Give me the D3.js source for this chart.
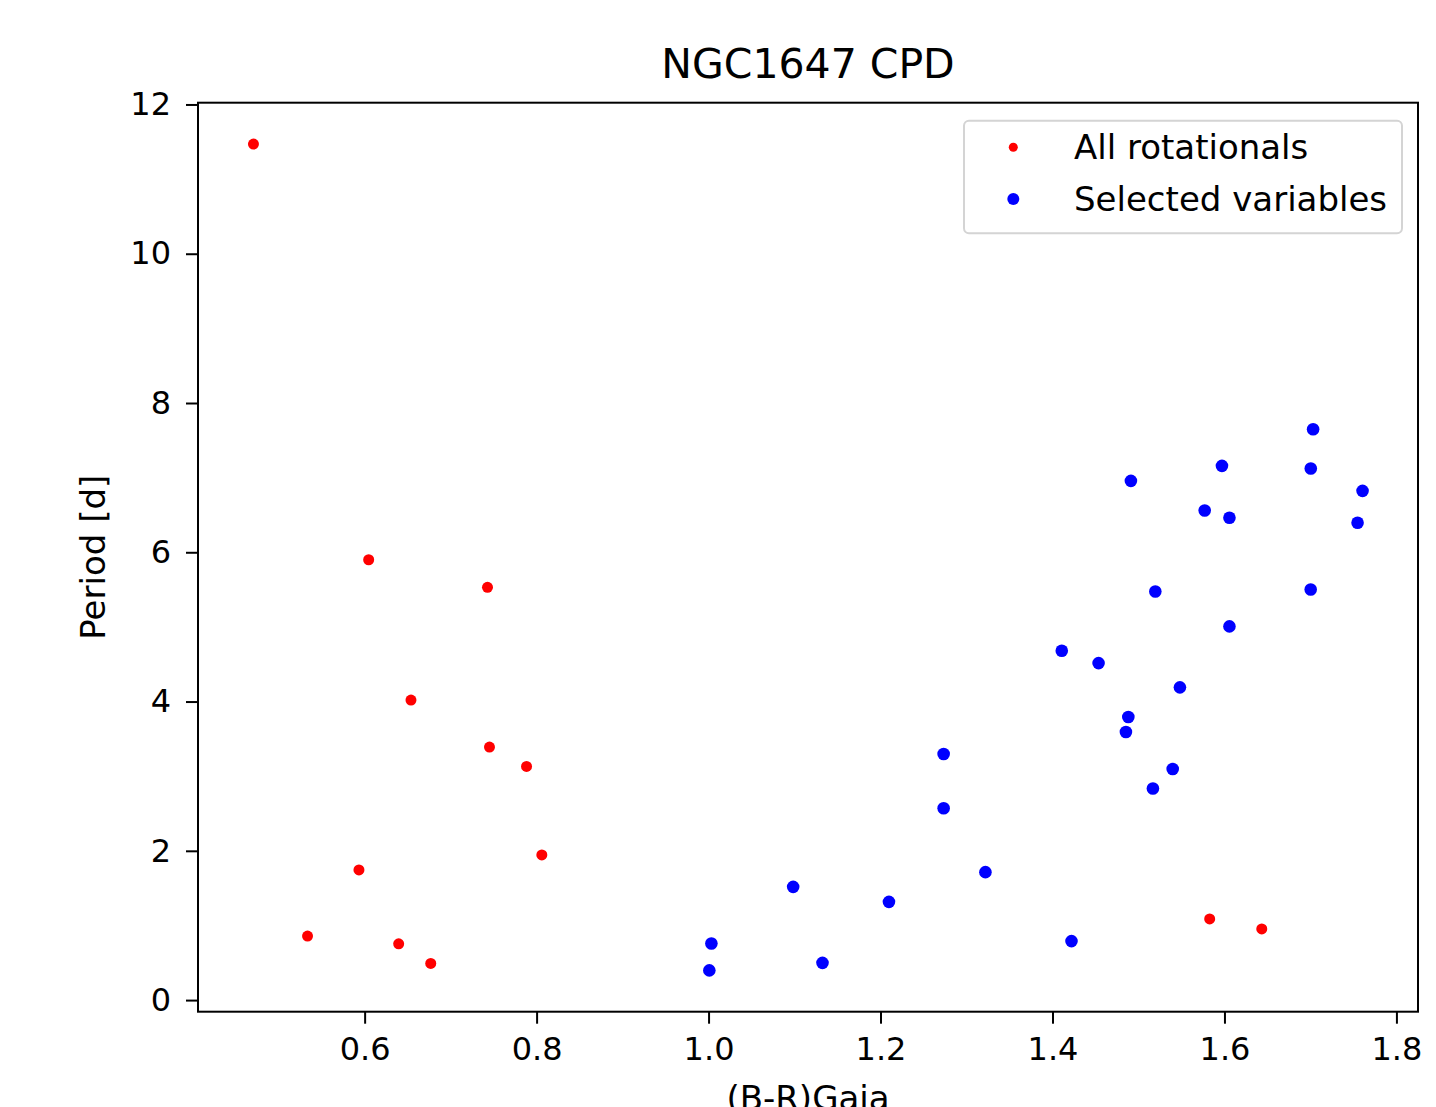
<!DOCTYPE html>
<html>
<head>
<meta charset="utf-8">
<script src="https://cdn.jsdelivr.net/npm/d3@7"></script>
<style>
  body { margin: 0; background: #fff; }
  svg { display: block; }
  text { font-family: "DejaVu Sans", sans-serif; fill: #000; }
</style>
</head>
<body>
<svg id="chart"></svg>
<script>
// colour (B-R)Gaia and period [d] for each group
var rotX = [0.4707, 0.6047, 0.7429, 0.6539, 0.7452, 0.7883, 0.8061, 0.5934, 0.5336, 0.6396, 0.6769, 1.5828, 1.6434];
var rotY = [11.47, 5.90, 5.53, 4.02, 3.39, 3.13, 1.945, 1.744, 0.857, 0.754, 0.491, 1.088, 0.954];

var selX = [1.7031, 1.5971, 1.7004, 1.4912, 1.7606, 1.5770, 1.6058, 1.7548, 1.5196, 1.7003, 1.6058, 1.4108, 1.4536, 1.5482,
            1.4882, 1.4854, 1.2734, 1.5398, 1.5168, 1.2734, 1.3220, 1.0984, 1.2098, 1.0033, 1.4221, 1.0009, 1.1325];
var selY = [7.648, 7.158, 7.122, 6.957, 6.823, 6.560, 6.462, 6.395, 5.475, 5.502, 5.007, 4.681, 4.515, 4.190,
            3.793, 3.592, 3.297, 3.096, 2.834, 2.570, 1.714, 1.517, 1.316, 0.759, 0.790, 0.398, 0.499];

var xTicks = [0.6, 0.8, 1.0, 1.2, 1.4, 1.6, 1.8];
var yTicks = [0, 2, 4, 6, 8, 10, 12];
var seriesNames = ["All rotationals", "Selected variables"];

var W = 1436, H = 1107;
var pL = 198, pR = 1418, pT = 102.7, pB = 1011.7;

var svg = d3.select("#chart")
            .attr("width", W)
            .attr("height", H);

// matplotlib style 5% margins
function padded(vals) {
	var ext = d3.extent(vals), m = (ext[1] - ext[0]) * 0.05;
	return [ext[0] - m, ext[1] + m];
}

var x = d3.scaleLinear()
	.domain(padded(rotX.concat(selX)))
	.range([pL, pR]);
var y = d3.scaleLinear()
	.domain(padded(rotY.concat(selY)))
	.range([pB, pT]);

// axes
var xAxis = svg.append("g")
	.attr("transform", "translate(0," + pB + ")")
	.call(d3.axisBottom(x).tickValues(xTicks).tickFormat(d3.format(".1f")).tickSize(12).tickPadding(14));
var yAxis = svg.append("g")
	.attr("transform", "translate(" + pL + ",0)")
	.call(d3.axisLeft(y).tickValues(yTicks).tickFormat(d3.format("d")).tickSize(12).tickPadding(15));

[xAxis, yAxis].forEach(function(a) {
	a.select(".domain").remove();
	a.selectAll(".tick line").attr("stroke", "#000").attr("stroke-width", 2);
	a.selectAll(".tick text")
		.style("font-family", "DejaVu Sans")
		.style("font-size", "32px")
		.attr("fill", "#000");
});

// points
svg.append("g").selectAll("circle")
	.data(rotX)
	.join("circle")
	.attr("cx", function(d) { return x(d); })
	.attr("cy", function(d, i) { return y(rotY[i]); })
	.attr("r", 5.5)
	.attr("fill", "#ff0000");

svg.append("g").selectAll("circle")
	.data(selX)
	.join("circle")
	.attr("cx", function(d) { return x(d); })
	.attr("cy", function(d, i) { return y(selY[i]); })
	.attr("r", 6.3)
	.attr("fill", "#0000ff");

// frame
svg.append("rect")
	.attr("x", pL)
	.attr("y", pT)
	.attr("width", pR - pL)
	.attr("height", pB - pT)
	.attr("fill", "none")
	.attr("stroke", "#000")
	.attr("stroke-width", 2);

// title and axis labels
svg.append("text")
	.attr("x", (pL + pR) / 2)
	.attr("y", 78)
	.attr("text-anchor", "middle")
	.style("font-size", "41px")
	.text("NGC1647 CPD");

svg.append("text")
	.attr("x", (pL + pR) / 2)
	.attr("y", 1110)
	.attr("text-anchor", "middle")
	.style("font-size", "34px")
	.text("(B-R)Gaia");

svg.append("text")
	.attr("transform", "translate(105," + (pT + pB) / 2 + ") rotate(-90)")
	.attr("text-anchor", "middle")
	.style("font-size", "34px")
	.text("Period [d]");

// legend
var lg = svg.append("g");
lg.append("rect")
	.attr("x", 964)
	.attr("y", 120.7)
	.attr("width", 438)
	.attr("height", 112.6)
	.attr("rx", 5)
	.attr("fill", "#fff")
	.attr("fill-opacity", 0.8)
	.attr("stroke", "#d4d4d4")
	.attr("stroke-width", 2);

var legendColors = ["#ff0000", "#0000ff"];
var legendR = [4.5, 6];
var legendY = [147.3, 199];
seriesNames.forEach(function(name, i) {
	lg.append("circle")
		.attr("cx", 1013.3)
		.attr("cy", legendY[i])
		.attr("r", legendR[i])
		.attr("fill", legendColors[i]);
	lg.append("text")
		.attr("x", 1074)
		.attr("y", legendY[i] + 11.5)
		.style("font-size", "34px")
		.text(name);
});
</script>
</body>
</html>
